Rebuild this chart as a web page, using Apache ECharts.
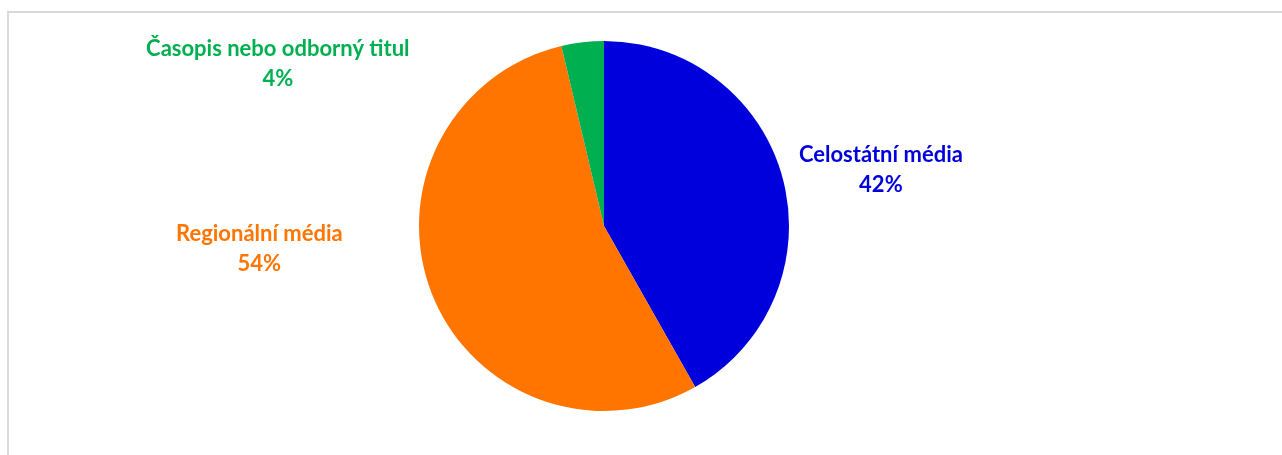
<!DOCTYPE html>
<html>
<head>
<meta charset="utf-8">
<script src="https://cdn.jsdelivr.net/npm/echarts@6/dist/echarts.min.js"></script>
<style>
html,body{margin:0;padding:0;background:#fff;}
#frame{position:absolute;left:7px;top:11px;width:1400px;height:600px;border:2px solid #d9d9d9;box-sizing:border-box;}
#chart{position:absolute;left:0;top:0;width:1282px;height:455px;}
</style>
</head>
<body>
<div id="frame"></div>
<div id="chart"></div>
<script>
const categories = ['Celostátní média', 'Regionální média', 'Časopis nebo odborný titul'];
const values = [41.8, 54.5, 3.7];
const colors = ['#0000DC', '#FF7500', '#00B050'];
// per-label placement styling (label line lengths and vertical padding)
const lineLen = [0, 0, 0];
const lineLen2 = [11, 84, 168];
const labelPad = [[0,0,17,0], [0,0,90,0], [44,0,0,0]];

const chart = echarts.init(document.getElementById('chart'), null, {renderer: 'canvas'});
const data = categories.map((name, i) => ({
  name: name,
  value: values[i],
  itemStyle: {color: colors[i]},
  labelLine: {show: false, length: lineLen[i], length2: lineLen2[i]},
  label: {
    padding: labelPad[i],
    rich: {
      t: {color: colors[i], fontFamily: 'Lato', fontWeight: 'bold', fontSize: 22, lineHeight: 30, align: 'center'}
    }
  }
}));

chart.setOption({
  animation: false,
  series: [{
    type: 'pie',
    center: [604, 226],
    radius: 185,
    startAngle: 90,
    clockwise: true,
    avoidLabelOverlap: false,
    percentPrecision: 0,
    itemStyle: {borderWidth: 0},
    label: {
      show: true,
      position: 'outside',
      alignTo: 'none',
      formatter: p => '{t|' + p.name + '}\n{t|' + p.percent + '%}'
    },
    emphasis: {disabled: true},
    data: data
  }]
});
</script>
</body>
</html>
